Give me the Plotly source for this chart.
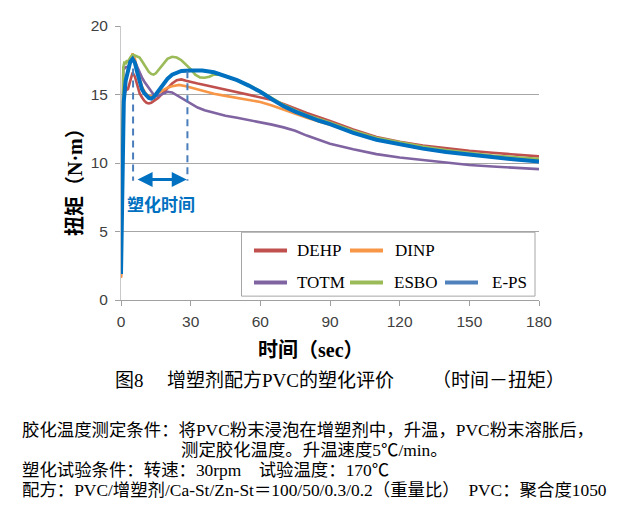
import plotly.graph_objects as go

# ---------------- data ----------------
t_dehp = [0, 0.5, 1, 1.5, 2, 3, 4, 5, 6, 7, 8, 9, 10, 11, 12, 13, 14, 16, 18, 20, 22, 24, 26, 28, 30, 33, 36, 40, 45, 50, 55, 60, 65, 70, 75, 80, 90, 100, 110, 120, 130, 140, 150, 160, 170, 180]
v_dehp = [1.7, 8, 14.0, 15.0, 15.3, 15.4, 16.0, 16.6, 16.3, 15.6, 15.1, 14.8, 14.55, 14.4, 14.35, 14.4, 14.5, 14.75, 15.1, 15.45, 15.8, 16.05, 16.1, 16.0, 15.9, 15.8, 15.7, 15.55, 15.35, 15.15, 15.0, 14.8, 14.6, 14.3, 13.95, 13.65, 13.07, 12.45, 11.9, 11.55, 11.28, 11.08, 10.9, 10.75, 10.6, 10.48]

t_dinp = [0, 0.5, 1, 1.5, 2, 3, 4, 5, 6, 7, 8, 9, 10, 11, 12, 13, 14, 16, 18, 20, 22, 25, 28, 30, 35, 40, 45, 50, 55, 60, 65, 70, 75, 80, 90, 100, 110, 120, 130, 140, 150, 160, 170, 180]
v_dinp = [1.6, 8, 14.5, 15.6, 16.0, 16.6, 17.5, 18.0, 17.6, 16.8, 16.1, 15.6, 15.25, 15.0, 14.9, 14.85, 14.9, 15.1, 15.35, 15.5, 15.6, 15.7, 15.6, 15.5, 15.25, 15.05, 14.9, 14.75, 14.6, 14.45, 14.2, 13.9, 13.6, 13.3, 12.8, 12.2, 11.7, 11.35, 11.05, 10.8, 10.6, 10.45, 10.3, 10.2]

t_totm = [0, 0.5, 1, 2, 3, 4, 5, 6, 7, 8, 9, 10, 11, 12, 13, 14, 15, 16, 18, 20, 22, 24, 26, 28, 30, 33, 36, 40, 45, 50, 55, 60, 65, 70, 75, 80, 85, 90, 100, 110, 120, 130, 140, 150, 160, 170, 180]
v_totm = [2.0, 12, 16.8, 17.0, 17.0, 17.3, 17.6, 17.4, 17.0, 16.6, 16.25, 15.95, 15.7, 15.45, 15.2, 15.0, 14.9, 14.9, 15.05, 15.2, 15.15, 14.95, 14.7, 14.5, 14.3, 14.05, 13.85, 13.65, 13.45, 13.3, 13.15, 13.0, 12.8, 12.6, 12.35, 12.0, 11.7, 11.4, 11.0, 10.65, 10.4, 10.2, 10.0, 9.85, 9.75, 9.65, 9.55]

t_esbo = [0, 0.5, 1, 1.5, 2, 2.5, 3, 4, 5, 6, 7, 8, 9, 10, 11, 12, 13, 14, 15, 16, 18, 20, 22, 24, 26, 28, 30, 32, 34, 36, 38, 40, 43, 46, 50, 55, 60, 65, 70, 75, 80, 90, 100, 110, 120, 130, 140, 150, 160, 170, 180]
v_esbo = [2.0, 12, 17.0, 17.4, 17.2, 17.5, 17.4, 17.7, 17.9, 17.85, 17.8, 17.7, 17.45, 17.2, 16.9, 16.65, 16.5, 16.45, 16.55, 16.75, 17.2, 17.6, 17.75, 17.7, 17.5, 17.2, 16.85, 16.45, 16.25, 16.22, 16.3, 16.45, 16.45, 16.3, 16.05, 15.7, 15.25, 14.75, 14.25, 13.85, 13.5, 12.95, 12.35, 11.85, 11.5, 11.2, 10.95, 10.75, 10.55, 10.42, 10.3]

t_eps = [0, 0.6, 1.2, 2, 3, 4, 5, 6, 7, 8, 9, 10, 11, 12, 13, 14, 15, 16, 18, 20, 22, 24, 26, 30, 35, 40, 45, 50, 55, 60, 65, 70, 75, 80, 85, 90, 100, 110, 120, 130, 140, 150, 160, 170, 180]
v_eps = [1.9, 9, 14.5, 16.0, 16.8, 17.4, 17.6, 17.3, 16.6, 15.9, 15.4, 15.1, 14.9, 14.75, 14.7, 14.8, 15.0, 15.25, 15.75, 16.15, 16.45, 16.62, 16.72, 16.76, 16.75, 16.62, 16.37, 16.05, 15.65, 15.2, 14.65, 14.15, 13.75, 13.4, 13.1, 12.84, 12.2, 11.7, 11.35, 11.05, 10.8, 10.6, 10.4, 10.25, 10.1]

series_names = ["DEHP", "DINP", "TOTM", "ESBO", "E-PS"]
series_colors = ["#c0504d", "#f79646", "#8064a2", "#9bbb59", "#0070c0"]
legend_colors = ["#c0504d", "#f79646", "#8064a2", "#9bbb59", "#4f81bd"]
series_widths = [2.6, 2.6, 2.6, 2.6, 4]

x_ticks = [0, 30, 60, 90, 120, 150, 180]
y_ticks = [0, 5, 10, 15, 20]

# plasticizing-time annotation (data units)
plast_start = 5.2
plast_end = 28.6
plast_top_start = 16.9
plast_top_end = 16.7
plast_bottom = 8.7
arrow_y = 8.8

# ---------------- figure ----------------
# the page body adds an 8px offset; targets below are screen pixels
OFF = 8
W, H = 632, 512
L, R, T, B = 121 - OFF, 93 + OFF, 17 - OFF, 212 + OFF
PW, PH = W - L - R, H - T - B


def px(x):
    return (x - OFF - L) / PW


def py(y):
    return (H - B - (y - OFF)) / PH


fig = go.Figure()
data = [(t_dehp, v_dehp), (t_dinp, v_dinp), (t_totm, v_totm), (t_esbo, v_esbo), (t_eps, v_eps)]
for (tt, vv), name, col, w in zip(data, series_names, series_colors, series_widths):
    fig.add_trace(go.Scatter(x=tt, y=vv, mode="lines", name=name, showlegend=False,
                             line=dict(color=col, width=w)))

# dashed guide lines
for xv, ytop in [(plast_start, plast_top_start), (plast_end, plast_top_end)]:
    fig.add_trace(go.Scatter(x=[xv, xv], y=[ytop, plast_bottom], mode="lines", showlegend=False,
                             line=dict(color="#4a7ebb", width=2, dash="7px,5px"), hoverinfo="skip"))

serif_cjk = "Liberation Serif, Noto Sans CJK SC"
sans_cjk = "Noto Sans CJK SC"


def txt(x, y, text, size, xanchor="center", family=serif_cjk, color="#000000", angle=0):
    return dict(x=px(x), y=py(y), xref="paper", yref="paper", xanchor=xanchor, yanchor="middle",
                text=text, showarrow=False, textangle=angle,
                font=dict(family=family, size=size, color=color))


annotations = [
    # double-headed arrow
    dict(x=plast_end - 0.3, y=arrow_y, ax=plast_start + 1.3, ay=arrow_y, xref="x", yref="y",
         axref="x", ayref="y", showarrow=True, arrowhead=2, startarrowhead=2, arrowside="end+start",
         arrowsize=1.0, startarrowsize=1.0, arrowwidth=3, arrowcolor="#0070c0", text=""),
    txt(161, 200, "<b>塑化时间</b>", 17, family=sans_cjk, color="#0070c0"),
    # axis titles
    txt(311, 352, "<b>时间（sec）</b>", 20),
    txt(75, 173, "<b>扭矩（N·m）</b>", 20, angle=-90),
    # caption
    txt(113, 383, "图8", 19, xanchor="left"),
    txt(165, 383, "增塑剂配方PVC的塑化评价", 19, xanchor="left"),
    txt(567, 383, "（时间－扭矩）", 19, xanchor="right"),
    # notes
    txt(20, 434, "胶化温度测定条件：将PVC粉末浸泡在增塑剂中，升温，PVC粉末溶胀后，", 17.4, xanchor="left"),
    txt(179, 455, "测定胶化温度。升温速度5℃/min。", 17.4, xanchor="left"),
    txt(20, 476, "塑化试验条件：转速：30rpm　试验温度：170℃", 17.4, xanchor="left"),
    txt(20, 496, "配方：PVC/增塑剂/Ca-St/Zn-St＝100/50/0.3/0.2（重量比）　PVC：聚合度1050", 17.4, xanchor="left"),
]

shapes = [
    dict(type="rect", xref="paper", yref="paper", x0=px(241.5), x1=px(535), y0=py(230), y1=py(296),
         line=dict(color="#a6a6a6", width=1), fillcolor="white", layer="above"),
]

# manual legend (Excel-style wrapping)
leg_pos = [(254, 295, 249), (350, 393, 249), (254, 295, 282), (350, 392, 282), (445, 490, 282)]
for (lx, tx, ly), name, col in zip(leg_pos, series_names, legend_colors):
    shapes.append(dict(type="line", xref="paper", yref="paper", x0=px(lx), x1=px(lx + 33),
                       y0=py(ly), y1=py(ly), line=dict(color=col, width=4), layer="above"))
    annotations.append(txt(tx, ly, name, 17, xanchor="left", family="Liberation Serif"))

fig.update_layout(
    width=W, height=H, margin=dict(l=L, r=R, t=T, b=B, pad=0),
    paper_bgcolor="white", plot_bgcolor="white",
    annotations=annotations, shapes=shapes,
    xaxis=dict(range=[0, 180], tickvals=x_ticks, showgrid=False, zeroline=False,
               showline=True, linecolor="#a0a0a0", linewidth=1, ticks="outside", ticklen=5,
               tickcolor="#a0a0a0", ticklabelstandoff=2,
               tickfont=dict(family="Liberation Sans", size=15.5, color="#404040")),
    yaxis=dict(range=[0, 20], tickvals=y_ticks, showgrid=True, gridcolor="#a6a6a6", gridwidth=1,
               zeroline=False, showline=True, linecolor="#c8c8c8", linewidth=1, ticks="outside",
               ticklen=5, tickcolor="#a0a0a0", ticklabelstandoff=4,
               tickfont=dict(family="Liberation Sans", size=15.5, color="#404040")),
)

fig.write_html("out.html")
